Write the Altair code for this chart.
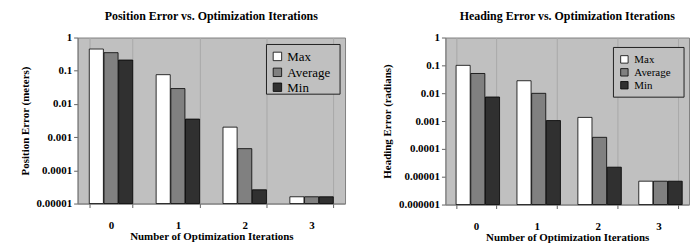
import altair as alt
import pandas as pd

iterations = ["0", "1", "2", "3"]
series = ["Max", "Average", "Min"]
series_colors = ["#ffffff", "#808080", "#303030"]

pos_max = [0.45, 0.076, 0.002, 0.000016]
pos_avg = [0.35, 0.029, 0.00045, 0.000016]
pos_min = [0.21, 0.0035, 0.000026, 0.000016]

head_max = [0.10, 0.028, 0.00135, 0.0000069]
head_avg = [0.051, 0.0099, 0.00026, 0.0000069]
head_min = [0.0073, 0.00104, 0.000022, 0.0000069]

pos_ticks = [1, 0.1, 0.01, 0.001, 0.0001, 0.00001]
head_ticks = [1, 0.1, 0.01, 0.001, 0.0001, 0.00001, 0.000001]

FONT = "Liberation Serif"

color_scale = alt.Scale(domain=series, range=series_colors)


def make_df(mx, av, mn):
    rows = []
    for i, it in enumerate(iterations):
        for s, vals in zip(series, [mx, av, mn]):
            rows.append({"iter": it, "series": s, "value": vals[i]})
    return pd.DataFrame(rows)


def legend_layers(box, sym_x, text_x, rows_y, fsize, ssize):
    one = pd.DataFrame({"k": [0]})
    layers = [
        alt.Chart(one).mark_rect(fill="#c0c0c0", stroke="#202020", strokeWidth=1).encode(
            x=alt.value(box[0]), x2=alt.value(box[1]), y=alt.value(box[2]), y2=alt.value(box[3])
        )
    ]
    for s, yy in zip(series, rows_y):
        d = pd.DataFrame({"series": [s]})
        layers.append(
            alt.Chart(d).mark_square(size=ssize, opacity=1, stroke="black", strokeWidth=0.8).encode(
                x=alt.value(sym_x), y=alt.value(yy),
                color=alt.Color("series:N", scale=color_scale, legend=None),
            )
        )
        layers.append(
            alt.Chart(d).mark_text(
                align="left", baseline="middle", font=FONT, fontSize=fsize, color="black"
            ).encode(x=alt.value(text_x), y=alt.value(yy + 1), text="series:N")
        )
    return layers


def panel(mx, av, mn, ticks, title, ytitle, w, h, leg):
    df = make_df(mx, av, mn)
    ymin = min(ticks)
    bars = alt.Chart(df).mark_bar(stroke="black", strokeWidth=0.8).encode(
        x=alt.X(
            "iter:N",
            sort=iterations,
            scale=alt.Scale(paddingInner=0.35, paddingOuter=0.175),
            axis=alt.Axis(
                title="Number of Optimization Iterations",
                labelAngle=0,
                tickBand="extent",
                grid=True,
                gridColor="#a8a8a8",
                labelPadding=12,
                titlePadding=0,
            ),
        ),
        xOffset=alt.XOffset("series:N", sort=series, scale=alt.Scale(paddingInner=0.04)),
        y=alt.Y(
            "value:Q",
            scale=alt.Scale(type="log", domain=[ymin, 1]),
            axis=alt.Axis(
                title=ytitle,
                values=ticks,
                format=".6~f",
                grid=False,
                titlePadding=6,
            ),
        ),
        y2=alt.datum(ymin),
        color=alt.Color("series:N", sort=series, scale=color_scale, legend=None),
    )
    return alt.layer(bars, *legend_layers(*leg)).properties(
        width=w,
        height=h,
        title=alt.TitleParams(title, font=FONT, fontSize=12, fontWeight="bold", color="black", offset=9),
    )


left = panel(pos_max, pos_avg, pos_min, pos_ticks,
             "Position Error vs. Optimization Iterations", "Position Error (meters)", 269, 167,
             ((190, 264, 7, 57), 201, 211, (19, 35, 50), 13, 72))
right = panel(head_max, head_avg, head_min, head_ticks,
              "Heading Error vs. Optimization Iterations", "Heading Error (radians)", 245, 168,
              ((169, 240, 10, 60), 180, 190, (22, 35, 48), 11, 56))

chart = alt.hconcat(left, right, spacing=35).configure(
    padding={"left": 10, "top": 0, "right": 0, "bottom": 0},
).configure_view(
    fill="#c0c0c0",
    stroke="#808080",
).configure_axis(
    labelFont=FONT,
    labelFontSize=11,
    labelFontWeight="bold",
    labelColor="black",
    titleFont=FONT,
    titleFontSize=11,
    titleFontWeight="bold",
    titleColor="black",
    domainColor="#808080",
    tickColor="#606060",
    tickSize=4,
)

chart.save("out.html", embed_options={"renderer": "svg", "actions": False})
